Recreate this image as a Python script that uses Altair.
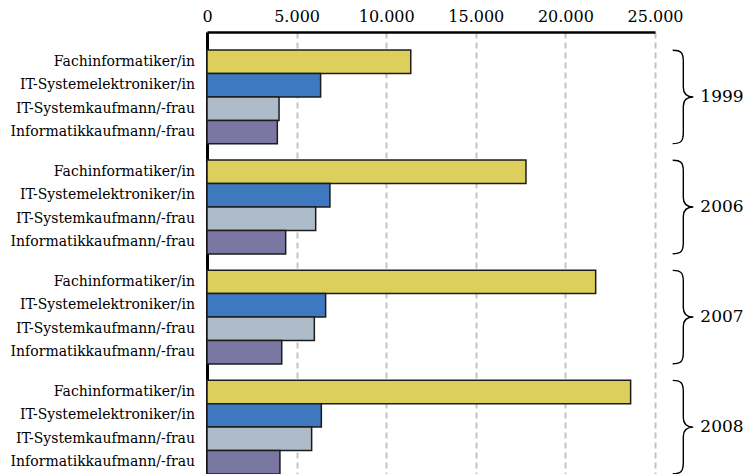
import altair as alt
import pandas as pd

# Apprenticeship contracts in IT occupations, by year
years = ["1999", "2006", "2007", "2008"]
jobs = [
    "Fachinformatiker/in",
    "IT-Systemelektroniker/in",
    "IT-Systemkaufmann/-frau",
    "Informatikkaufmann/-frau",
]
fachinformatiker = [11370, 17800, 21690, 23640]
systemelektroniker = [6340, 6860, 6620, 6380]
systemkaufmann = [4020, 6065, 5990, 5840]
informatikkaufmann = [3925, 4390, 4170, 4070]
x_ticks = [0, 5000, 10000, 15000, 20000, 25000]
x_domain = [0, 25000]

colors = ["#DDCF5B", "#3E78BE", "#ADBCC8", "#7B77A3"]
FONT = "DejaVu Serif"

series = [fachinformatiker, systemelektroniker, systemkaufmann, informatikkaufmann]
rows = []
for job, vals in zip(jobs, series):
    for year, v in zip(years, vals):
        rows.append({"year": year, "job": job, "value": v})
df = pd.DataFrame(rows)
year_df = pd.DataFrame({"year": years})

# curly brace drawn as a custom symbol path in unit coordinates
BRACE_PATH = (
    "M -0.227 -1 C -0.05 -1 0 -0.95 0 -0.76 L 0 -0.2 "
    "C 0 -0.07 0.08 0 0.214 0 C 0.08 0 0 0.07 0 0.2 "
    "L 0 0.76 C 0 0.95 -0.05 1 -0.227 1"
)
BRACE_X = 26580  # just right of the 25.000 gridline

x_scale = alt.Scale(domain=x_domain, nice=False, zero=False)

x_enc = alt.X(
    "value:Q",
    scale=x_scale,
    axis=alt.Axis(
        orient="top",
        values=x_ticks,
        title=None,
        grid=True,
        gridDash=[6, 4],
        gridColor="#c4c4c4",
        gridWidth=2,
        domainColor="black",
        domainWidth=2.5,
        ticks=False,
        labelPadding=8,
        labelFont=FONT,
        labelFontSize=16,
        labelColor="black",
        labelFlush=False,
        labelExpr="replace(format(datum.value, ','), ',', '.')",
    ),
)

y_enc = alt.Y(
    "year:N",
    sort=years,
    scale=alt.Scale(paddingInner=0.1475, paddingOuter=0.082, align=1),
    axis=alt.Axis(
        labels=False,
        ticks=False,
        title=None,
        grid=False,
        domainColor="black",
        domainWidth=3,
    ),
)

y_off = alt.YOffset("job:N", sort=jobs, scale=alt.Scale(paddingInner=0, paddingOuter=0))

bars = alt.Chart(df).mark_bar(stroke="#1c1c1c", strokeWidth=1.5).encode(
    x=x_enc,
    y=y_enc,
    yOffset=y_off,
    color=alt.Color("job:N", scale=alt.Scale(domain=jobs, range=colors), legend=None),
)

job_labels = alt.Chart(df).mark_text(
    align="right", dx=-12, font=FONT, fontSize=14, color="black"
).encode(
    x=alt.X(datum=0, type="quantitative", scale=x_scale),
    y=alt.Y("year:N", sort=years),
    yOffset=alt.YOffset("job:N", sort=jobs),
    text="job:N",
)

braces = alt.Chart(year_df).mark_point(
    shape=BRACE_PATH, size=8724, filled=False, stroke="black", strokeWidth=1.4, opacity=1
).encode(
    x=alt.X(datum=BRACE_X, type="quantitative", scale=x_scale),
    y=alt.Y("year:N", sort=years),
)

year_labels = alt.Chart(year_df).mark_text(
    align="left", dx=17, font=FONT, fontSize=17, color="black"
).encode(
    x=alt.X(datum=BRACE_X, type="quantitative", scale=x_scale),
    y=alt.Y("year:N", sort=years),
    text="year:N",
)

chart = (
    alt.layer(bars, job_labels, braces, year_labels)
    .properties(
        width=448,
        height=442,
        autosize=alt.AutoSizeParams(type="none"),
        padding={"left": 207, "top": 32, "right": 95, "bottom": 0},
    )
    .configure_view(stroke=None)
)

chart.save("out.html", embed_options={"renderer": "svg", "actions": False})
